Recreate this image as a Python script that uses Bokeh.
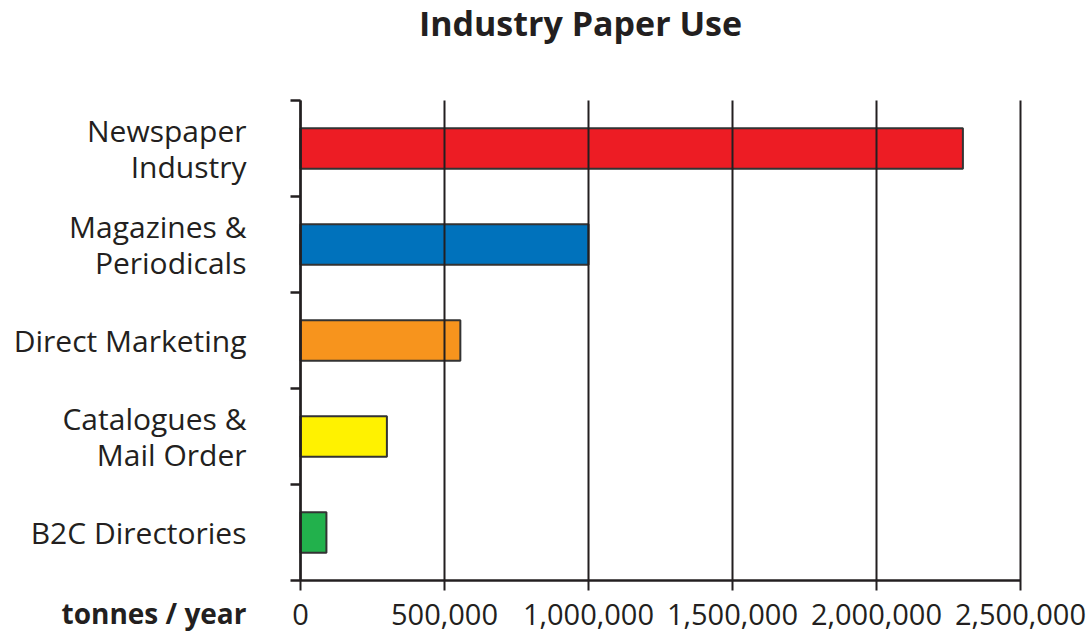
from bokeh.plotting import figure
from bokeh.models import FixedTicker, NumeralTickFormatter, Label, Range1d
from bokeh.embed import file_html
from bokeh.resources import INLINE

title = "Industry Paper Use"
categories = ["Newspaper\nIndustry", "Magazines &\nPeriodicals", "Direct Marketing",
              "Catalogues &\nMail Order", "B2C Directories"]
values = [2300000, 1000000, 555000, 300000, 90000]
colors = ["#ED1C24", "#0072BC", "#F7941D", "#FFF200", "#22B14C"]
x_ticks = [0, 500000, 1000000, 1500000, 2000000, 2500000]
unit_label = "tonnes / year"

n = len(categories)
centers = [n - i - 0.5 for i in range(n)]

FONT = "Open Sans"
INK = "#231F20"

# layout (pixels): canvas size and where the value area sits inside it
W, H = 1089, 633
L, R, T, B = 300, 1020, 100, 580
xmax = x_ticks[-1]
ppx = (R - L) / xmax          # pixels per unit (x)
ppy = (B - T) / n             # pixels per band (y)
x0 = -L / ppx
x1 = xmax + (W - R) / ppx
y0 = -(H - B) / ppy
y1 = n + T / ppy

p = figure(width=W, height=H, output_backend="svg", toolbar_location=None,
           x_range=Range1d(x0, x1), y_range=Range1d(y0, y1),
           min_border_left=0, min_border_right=0, min_border_top=0, min_border_bottom=0)
p.outline_line_color = None
p.background_fill_color = "white"
p.border_fill_color = "white"
p.xgrid.grid_line_color = None
p.ygrid.grid_line_color = None

p.hbar(y=centers, left=0, right=values, height=0.42, fill_color=colors,
       line_color="#333333", line_width=2)

# x axis (its long inner ticks form the vertical grid lines)
xa = p.xaxis[0]
xa.fixed_location = 0
xa.bounds = (0, xmax)
xa.ticker = FixedTicker(ticks=x_ticks)
xa.formatter = NumeralTickFormatter(format="0,0")
xa.axis_line_color = INK
xa.axis_line_width = 2.5
xa.major_tick_line_color = INK
xa.major_tick_line_width = 2
xa.major_tick_out = 10
xa.major_tick_in = B - T
xa.minor_tick_line_color = None
xa.major_label_text_font = FONT
xa.major_label_text_font_size = "29px"
xa.major_label_text_color = INK
xa.major_label_standoff = 13

# y axis: labels at band centres, tick marks at band boundaries (minor ticks)
ya = p.yaxis[0]
ya.fixed_location = 0
ya.bounds = (0, n)
ya.ticker = FixedTicker(ticks=centers, minor_ticks=list(range(n + 1)))
ya.major_label_overrides = {c: t for c, t in zip(centers, categories)}
ya.axis_line_color = INK
ya.axis_line_width = 2.5
ya.major_tick_line_color = None
ya.major_tick_out = 0
ya.major_tick_in = 0
ya.minor_tick_line_color = INK
ya.minor_tick_line_width = 2.5
ya.minor_tick_out = 10
ya.minor_tick_in = 0
ya.major_label_standoff = 44
ya.major_label_text_font = FONT
ya.major_label_text_font_size = "30px"
ya.major_label_text_color = INK
ya.major_label_text_align = "right"
ya.major_label_text_line_height = 0.89

p.add_layout(Label(x=0, y=0, x_offset=-54, y_offset=-32, text=unit_label,
                   text_align="right", text_baseline="alphabetic",
                   text_font=FONT, text_font_style="bold", text_font_size="28px",
                   text_color=INK))

p.add_layout(Label(x=580, y=H - 22, x_units="screen", y_units="screen", text=title,
                   text_align="center", text_baseline="alphabetic",
                   text_font=FONT, text_font_style="bold", text_font_size="34px",
                   text_color=INK))

open("out.html", "w").write(file_html(p, INLINE))
